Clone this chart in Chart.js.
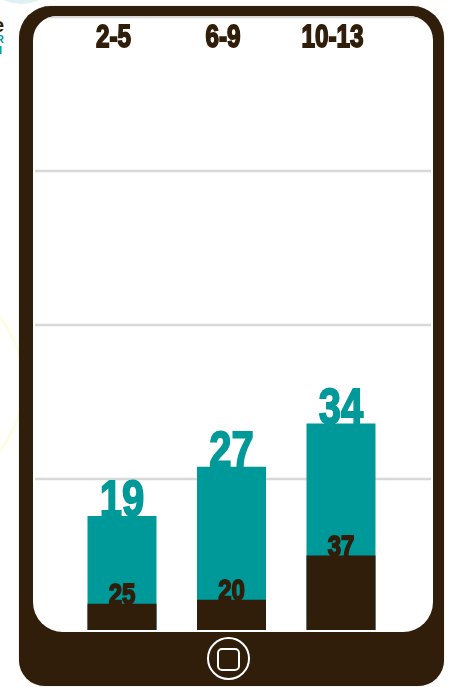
<!DOCTYPE html>
<html>
<head>
<meta charset="utf-8">
<style>
  html, body { margin: 0; padding: 0; background: #fff; overflow: hidden; }
  #page { position: relative; width: 450px; height: 687px; overflow: hidden; }
  #blob { position: absolute; left: -19px; top: -77px; width: 81px; height: 81px; border-radius: 50%; background: #dff1f3; }
  #ring { position: absolute; left: -189px; top: 277px; width: 208px; height: 208px; border-radius: 50%; border: 3px solid #fdfde4; }
  .edge { position: absolute; font-family: "Liberation Sans", sans-serif; font-weight: bold; line-height: 1; }
  #phone { position: absolute; left: 19px; top: 6px; width: 425px; height: 680px; background: #301d0a; border-radius: 32px 32px 26px 26px; box-shadow: 0 0 1px #8a7f75; }
  #screen { position: absolute; left: 33px; top: 16px; width: 400px; height: 616px; background: #fff; border-radius: 24px 24px 30px 30px; overflow: hidden; }
  #screen canvas { position: absolute; left: -33px; top: -16px; }
  #homeRing { position: absolute; left: 207px; top: 637px; width: 39px; height: 39px; border: 2px solid #fff; border-radius: 50%; }
  #homeKey { position: absolute; left: 217px; top: 648px; width: 19px; height: 19px; border: 2px solid #fff; border-radius: 5px; }
</style>
</head>
<body>
<div id="page">
  <div id="blob"></div>
  <div id="ring"></div>
  <div class="edge" style="left:-7px;top:15px;font-size:20px;color:#301d0a">e</div>
  <div class="edge" style="left:-4px;top:34px;font-size:11px;color:#009999">R</div>
  <div class="edge" style="left:-1px;top:45px;font-size:11px;color:#009999">I</div>
  <div id="phone"></div>
  <div id="screen"><canvas id="chart" width="450" height="687"></canvas></div>
  <div id="homeRing"></div>
  <div id="homeKey"></div>
</div>
<script src="https://cdn.jsdelivr.net/npm/chart.js@4"></script>
<script>
const ageGroups = ['2-5', '6-9', '10-13'];
const totals = [19, 27, 34];
// percent of each total, the dark part of the bar
const shares = [25, 20, 37];
const gridTicks = [0, 25, 50, 75, 100];

const TEAL = '#009999';
const BROWN = '#301d0a';
const LABEL_FONT = '"Liberation Sans", sans-serif';

const shareOfTotal = shares.map((share, i) => totals[i] * share / 100);

// gridlines run wider than the bars' area, so they are drawn by hand
const wideGrid = {
  id: 'wideGrid',
  beforeDatasetsDraw(chart) {
    const { ctx, scales: { y } } = chart;
    ctx.save();
    ctx.strokeStyle = '#d8d8d8';
    ctx.lineWidth = 2.5;
    y.ticks.forEach((tick) => {
      if (tick.value === 0) return;
      const py = y.getPixelForValue(tick.value);
      ctx.beginPath();
      ctx.moveTo(35, py);
      ctx.lineTo(431, py);
      ctx.stroke();
    });
    ctx.restore();
  },
};

// no condensed poster face is around, so a bold one gets squeezed
function drawLabel(ctx, text, x, y, size, color, squeeze) {
  ctx.save();
  ctx.translate(x, y);
  ctx.scale(squeeze, 1);
  ctx.font = `bold ${size}px ${LABEL_FONT}`;
  ctx.textAlign = 'center';
  ctx.textBaseline = 'alphabetic';
  ctx.fillStyle = color;
  ctx.strokeStyle = color;
  ctx.lineWidth = 1.8;
  ctx.fillText(text, 0, 0);
  ctx.strokeText(text, 0, 0);
  ctx.restore();
}

const barLabels = {
  id: 'barLabels',
  afterDatasetsDraw(chart) {
    const { ctx, scales: { x } } = chart;
    // age groups sit inside the plot, a little left of their bars
    ageGroups.forEach((group, i) => {
      drawLabel(ctx, group, x.getPixelForTick(i) - 8.5, 47, 32, BROWN, 0.76);
    });
    chart.getDatasetMeta(0).data.forEach((bar, i) => {
      drawLabel(ctx, String(totals[i]), bar.x, bar.y, 50, TEAL, 0.8);
    });
    chart.getDatasetMeta(1).data.forEach((bar, i) => {
      drawLabel(ctx, String(shares[i]), bar.x, bar.y, 30, BROWN, 0.8);
    });
  },
};

new Chart(document.getElementById('chart').getContext('2d'), {
  type: 'bar',
  data: {
    labels: ageGroups,
    datasets: [
      { label: 'Total', data: totals, backgroundColor: TEAL, order: 2 },
      { label: 'Share', data: shareOfTotal, backgroundColor: BROWN, order: 1 },
    ],
  },
  plugins: [wideGrid, barLabels],
  options: {
    responsive: false,
    animation: false,
    layout: { padding: { left: 67.25, right: 54.25, top: 17, bottom: 54 } },
    plugins: { legend: { display: false }, tooltip: { enabled: false } },
    datasets: {
      bar: {
        grouped: false,
        barPercentage: 0.63,
        categoryPercentage: 1,
        clip: { left: 0, top: 0, right: 0, bottom: -3 },
      },
    },
    scales: {
      x: {
        display: true,
        afterFit(scale) { scale.height = 0; },
        grid: { display: false },
        border: { display: false },
        ticks: { display: false },
      },
      y: {
        display: true,
        min: 0,
        max: 100,
        afterBuildTicks(scale) { scale.ticks = gridTicks.map((value) => ({ value })); },
        afterFit(scale) { scale.width = 0; },
        grid: { display: false },
        border: { display: false },
        ticks: { display: false },
      },
    },
  },
});
</script>
</body>
</html>
